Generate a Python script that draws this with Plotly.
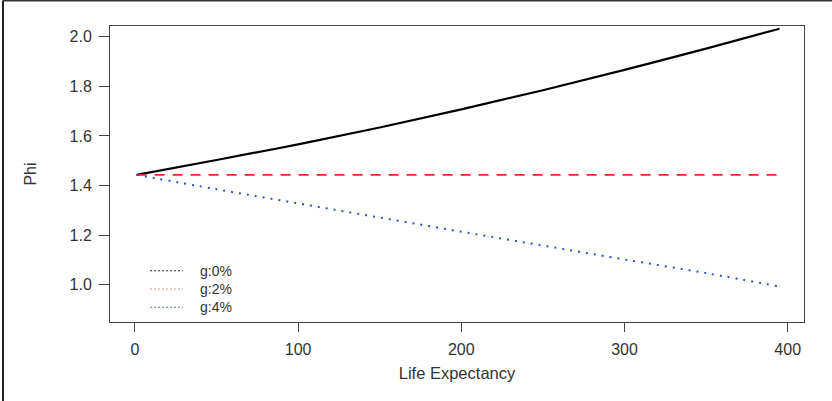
import plotly.graph_objects as go

# Life expectancy grid and Phi values for each growth rate
life_expectancy = [1, 50, 100, 150, 200, 250, 300, 350, 395]
phi_g0 = [1.443, 1.503, 1.566, 1.634, 1.707, 1.784, 1.866, 1.952, 2.032]
phi_g2 = [1.443, 1.443, 1.443, 1.443, 1.443, 1.443, 1.443, 1.443, 1.443]
phi_g4 = [1.443, 1.385, 1.328, 1.271, 1.214, 1.158, 1.102, 1.047, 0.993]

legend_labels = ["g:0%", "g:2%", "g:4%"]
legend_colors = ["#222222", "#f08a8a", "#5a6fcc"]
x_ticks = [0, 100, 200, 300, 400]
y_ticks = [1.0, 1.2, 1.4, 1.6, 1.8, 2.0]

font = "Liberation Sans, Arial, sans-serif"
text_col = "#333333"

fig = go.Figure()

fig.add_trace(go.Scatter(x=life_expectancy, y=phi_g0, mode="lines", name=legend_labels[0],
                         line=dict(color="black", width=2.2, shape="spline")))
fig.add_trace(go.Scatter(x=life_expectancy, y=phi_g2, mode="lines", name=legend_labels[1],
                         line=dict(color="#e8262c", width=1.8, dash="10px,8px")))
fig.add_trace(go.Scatter(x=life_expectancy, y=phi_g4, mode="lines", name=legend_labels[2],
                         line=dict(color="#3350c8", width=2, dash="2px,6px", shape="spline")))

# compact key in the lower-left corner: dotted samples beside a three-line label block
shapes = []
row_y = [0.173, 0.1115, 0.05]
for col, yy in zip(legend_colors, row_y):
    shapes.append(dict(type="line", xref="paper", yref="paper", x0=0.0576, x1=0.105,
                       y0=yy, y1=yy, line=dict(color=col, width=1, dash="2px,2px")))
annotations = [dict(xref="paper", yref="paper", x=0.1268, y=row_y[1],
                    text="<br>".join(legend_labels), showarrow=False, align="left",
                    xanchor="left", yanchor="middle",
                    font=dict(size=14, color=text_col))]

# outer frame edges
shapes += [
    dict(type="line", xref="paper", yref="paper", x0=-0.1542, x1=1.05,
         y0=1.0861, y1=1.0861, line=dict(color="#333", width=2)),
    dict(type="line", xref="paper", yref="paper", x0=-0.1542, x1=-0.1542,
         y0=-0.3, y1=1.0861, line=dict(color="#222", width=2)),
]

fig.update_layout(
    width=832, height=401,
    margin=dict(l=110, r=28, t=26, b=79),
    paper_bgcolor="white", plot_bgcolor="white",
    font=dict(family=font, size=16, color=text_col),
    showlegend=False,
    xaxis=dict(range=[-15.3, 410], tickvals=x_ticks, ticks="outside", ticklen=9,
               tickcolor="#444", showgrid=False, zeroline=False,
               showline=True, linecolor="#444", linewidth=1, mirror=True,
               ticklabelstandoff=4,
               title=dict(text="Life Expectancy", standoff=10, font=dict(size=16.5))),
    yaxis=dict(range=[0.85, 2.043], tickvals=y_ticks, tickformat=".1f",
               ticks="outside", ticklen=10, tickcolor="#444", showgrid=False,
               zeroline=False, showline=True, linecolor="#444", linewidth=1,
               mirror=True, ticklabelstandoff=4,
               title=dict(text="Phi", standoff=28, font=dict(size=16))),
    shapes=shapes,
    annotations=annotations,
)

fig.write_html("out.html")
